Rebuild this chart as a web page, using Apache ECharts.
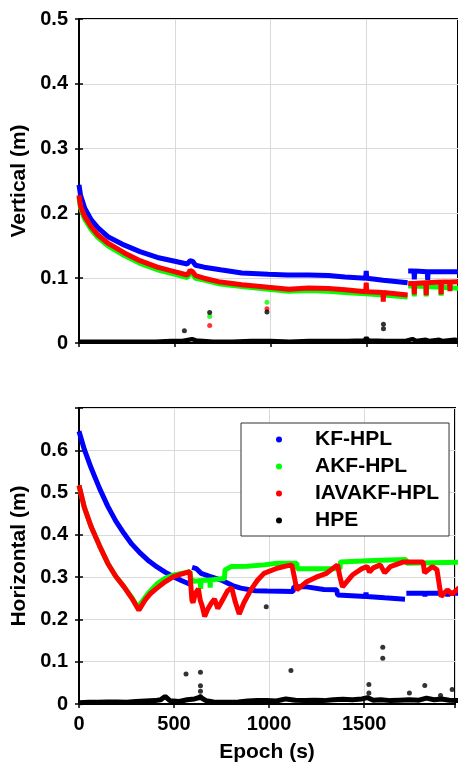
<!DOCTYPE html>
<html><head><meta charset="utf-8">
<script src="https://cdn.jsdelivr.net/npm/echarts@6/dist/echarts.min.js"></script>
<style>html,body{margin:0;padding:0;background:#fff}#c{width:458px;height:766px}</style>
</head><body><div id="c"></div>
<script>
// ---------- data (epoch s, metres) ----------
const seriesNames = ['KF-HPL', 'AKF-HPL', 'IAVAKF-HPL', 'HPE'];
const xTickLabels = [0, 500, 1000, 1500];
const vTickLabels = [0, 0.1, 0.2, 0.3, 0.4, 0.5];
const hTickLabels = [0, 0.1, 0.2, 0.3, 0.4, 0.5, 0.6];

// Vertical panel
const kfV = [[0,0.244],[8,0.228],[30,0.208],[64,0.190],[98,0.178],[151,0.164],[237,0.151],[318,0.141],[409,0.132],[488,0.127],[565,0.122],[580,0.127],[593,0.126],[608,0.120],[653,0.117],[738,0.113],[850,0.108],[988,0.106],[1088,0.105],[1198,0.105],[1302,0.104],[1388,0.102],[1496,0.100],[1499,0.111],[1502,0.100],[1588,0.097],[1715,0.093],[1716,null],[1718,0.111],[1748,0.111],[1750,0.098],[1752,0.111],[1818,0.110],[1820,0.097],[1822,0.110],[1900,0.110],[2000,0.110]];
const akV = [[0,0.225],[8,0.208],[30,0.191],[64,0.175],[98,0.163],[151,0.150],[237,0.135],[318,0.123],[409,0.113],[488,0.107],[565,0.101],[580,0.108],[593,0.106],[608,0.100],[653,0.097],[738,0.091],[850,0.087],[988,0.083],[1094,0.080],[1198,0.081],[1302,0.080],[1388,0.078],[1496,0.076],[1588,0.074],[1715,0.071],[1716,null],[1718,0.088],[1748,0.088],[1750,0.072],[1752,0.088],[1810,0.087],[1812,0.072],[1814,0.087],[1888,0.086],[1890,0.073],[1892,0.086],[2000,0.084]];
const iaV = [[0,0.228],[8,0.211],[30,0.195],[64,0.179],[98,0.167],[151,0.154],[237,0.139],[318,0.127],[409,0.117],[488,0.111],[565,0.105],[580,0.112],[593,0.110],[608,0.104],[653,0.100],[738,0.094],[850,0.090],[988,0.086],[1094,0.083],[1198,0.085],[1302,0.084],[1388,0.082],[1496,0.079],[1499,0.093],[1502,0.079],[1586,0.078],[1588,0.064],[1590,0.078],[1715,0.074],[1716,null],[1718,0.092],[1748,0.092],[1750,0.075],[1752,0.092],[1810,0.093],[1812,0.074],[1814,0.093],[1888,0.094],[1890,0.075],[1892,0.094],[1934,0.094],[1936,0.080],[1938,0.094],[2000,0.095]];
const hpeV = [[0,0.002],[100,0.002],[200,0.002],[300,0.002],[400,0.002],[480,0.003],[540,0.003],[590,0.006],[610,0.004],[700,0.002],[800,0.002],[900,0.003],[1000,0.003],[1100,0.002],[1200,0.003],[1300,0.003],[1400,0.003],[1490,0.004],[1500,0.008],[1510,0.004],[1600,0.003],[1700,0.003],[1740,0.006],[1760,0.003],[1810,0.005],[1830,0.003],[1880,0.005],[1900,0.003],[1960,0.005],[2000,0.003]];
const hpeVOut = [[550,0.019],[682,0.047],[981,0.048],[1589,0.029],[1589,0.022]];
const akVOut = [[682,0.041],[981,0.063]];
const iaVOut = [[682,0.027],[981,0.053]];

// Horizontal panel
const kfH = [[0,0.645],[28,0.602],[64,0.558],[108,0.510],[151,0.468],[193,0.433],[237,0.403],[278,0.378],[324,0.356],[368,0.338],[410,0.324],[453,0.312],[497,0.301],[538,0.292],[590,0.282],[592,null],[595,0.323],[618,0.320],[642,0.309],[688,0.302],[748,0.293],[808,0.280],[851,0.274],[928,0.268],[990,0.267],[1126,0.266],[1130,0.277],[1198,0.277],[1288,0.271],[1356,0.270],[1360,0.258],[1508,0.254],[1510,0.264],[1512,0.254],[1608,0.251],[1715,0.248],[1716,null],[1722,0.262],[1818,0.262],[1820,0.254],[1822,0.262],[1938,0.262],[1940,0.254],[1942,0.262],[2000,0.262]];
const akH = [[0,0.517],[28,0.465],[64,0.419],[108,0.374],[151,0.333],[193,0.302],[237,0.277],[278,0.252],[308,0.228],[328,0.240],[368,0.264],[410,0.284],[453,0.297],[497,0.305],[538,0.309],[583,0.313],[590,0.295],[608,0.290],[638,0.292],[640,0.272],[642,0.292],[688,0.293],[690,0.275],[692,0.293],[748,0.296],[765,0.296],[768,0.317],[800,0.325],[886,0.326],[973,0.329],[1042,0.333],[1146,0.333],[1148,0.320],[1198,0.320],[1373,0.320],[1375,0.336],[1488,0.338],[1588,0.340],[1721,0.342],[1723,0.333],[2000,0.335]];
const iaH = [[0,0.517],[28,0.465],[64,0.419],[108,0.374],[151,0.333],[193,0.302],[237,0.277],[278,0.250],[315,0.222],[348,0.246],[378,0.262],[410,0.274],[453,0.289],[497,0.301],[538,0.307],[583,0.313],[588,0.283],[594,0.245],[600,0.240],[613,0.262],[628,0.272],[638,0.245],[648,0.232],[661,0.207],[678,0.225],[698,0.240],[713,0.248],[730,0.226],[748,0.240],[782,0.268],[803,0.275],[823,0.240],[843,0.213],[868,0.240],[904,0.270],[938,0.292],[973,0.309],[1042,0.321],[1088,0.326],[1120,0.329],[1133,0.300],[1146,0.270],[1198,0.289],[1248,0.300],[1302,0.309],[1360,0.329],[1373,0.300],[1386,0.277],[1438,0.305],[1488,0.320],[1516,0.325],[1528,0.312],[1548,0.322],[1585,0.329],[1608,0.310],[1638,0.325],[1707,0.336],[1810,0.336],[1818,0.310],[1858,0.325],[1883,0.318],[1905,0.254],[1938,0.270],[1963,0.260],[2000,0.275]];
const hpeH = [[0,0.003],[50,0.004],[100,0.004],[150,0.005],[200,0.005],[250,0.004],[300,0.006],[350,0.007],[400,0.008],[430,0.010],[453,0.018],[478,0.008],[528,0.006],[568,0.010],[608,0.012],[638,0.016],[668,0.008],[708,0.005],[768,0.004],[838,0.005],[888,0.007],[938,0.008],[988,0.008],[1038,0.007],[1088,0.012],[1138,0.009],[1188,0.008],[1238,0.009],[1288,0.008],[1338,0.010],[1388,0.011],[1438,0.010],[1488,0.012],[1518,0.015],[1548,0.009],[1588,0.010],[1638,0.008],[1688,0.009],[1738,0.010],[1788,0.009],[1828,0.014],[1868,0.010],[1908,0.012],[1948,0.009],[2000,0.008]];
const hpeHOut = [[563,0.071],[639,0.075],[639,0.043],[639,0.030],[639,0.018],[985,0.230],[1115,0.079],[1598,0.134],[1598,0.108],[1525,0.046],[1525,0.026],[1738,0.026],[1819,0.044],[1902,0.020],[1963,0.034]];

// ---------- chart ----------
const FONT = '"Liberation Sans", Arial, sans-serif';
const C = {kf:'#0000ff', ak:'#00ff00', ia:'#ff0000', hpe:'#000000'};
const X_MAX = 1978;

function xAxisCfg(grid, pos, showLabel, name) {
  return {
    type:'value', gridIndex:grid, position:pos, min:0, max:X_MAX, interval:500,
    axisLine:{show:true, lineStyle:{color:'#000', width:2}},
    axisTick:{show:true, inside:true, length:4, lineStyle:{color:'#000', width:1.5}},
    axisLabel:{show:showLabel, margin:10, color:'#000', fontSize:20, fontWeight:'bold', fontFamily:FONT,
      formatter:v => xTickLabels.includes(v) ? String(v) : ''},
    splitLine:{show:pos==='bottom', lineStyle:{color:'#d9d9d9', width:1}},
    name: name || '', nameLocation:'middle', nameGap:38,
    nameTextStyle:{color:'#000', fontSize:21, fontWeight:'bold', fontFamily:FONT}
  };
}
function yAxisCfg(grid, pos, max, labels, name, gap) {
  return {
    type:'value', gridIndex:grid, position:pos, min:0, max:max, interval:0.1,
    axisLine:{show:true, lineStyle:{color:'#000', width:2}},
    axisTick:{show:true, inside:true, length:4, lineStyle:{color:'#000', width:1.5}},
    axisLabel:{show:pos==='left', margin:11, color:'#000', fontSize:20, fontWeight:'bold', fontFamily:FONT,
      formatter:v => { const r = +(+v).toFixed(1); return labels.includes(r) ? String(r) : ''; }},
    splitLine:{show:pos==='left', lineStyle:{color:'#d9d9d9', width:1}},
    name: name || '', nameLocation:'middle', nameGap:gap || 40,
    nameTextStyle:{color:'#000', fontSize:21, fontWeight:'bold', fontFamily:FONT}
  };
}
function lineS(name, color, data, xi, yi, w) {
  return {type:'line', name, color, data, xAxisIndex:xi, yAxisIndex:yi, showSymbol:false, symbol:'none',
    connectNulls:false, lineStyle:{color, width:w}, animation:false, silent:true};
}
function dotS(name, color, data, xi, yi) {
  return {type:'scatter', name, color, data, xAxisIndex:xi, yAxisIndex:yi, symbol:'circle', symbolSize:5,
    itemStyle:{color}, animation:false, silent:true};
}

const option = {
  animation:false,
  backgroundColor:'#fff',
  grid:[
    {left:79, top:19, width:381, height:324, show:true, borderColor:'#000', borderWidth:2, backgroundColor:'transparent'},
    {left:79, top:408, width:381, height:296, show:true, borderColor:'#000', borderWidth:2, backgroundColor:'transparent'}
  ],
  xAxis:[
    xAxisCfg(0,'bottom',false),
    xAxisCfg(1,'bottom',true,'Epoch (s)'),
    xAxisCfg(0,'top',false),
    xAxisCfg(1,'top',false)
  ],
  yAxis:[
    yAxisCfg(0,'left',0.5,vTickLabels,'Vertical (m)',46),
    yAxisCfg(1,'left',0.7,hTickLabels,'Horizontal (m)',42),
    yAxisCfg(0,'right',0.5,vTickLabels),
    yAxisCfg(1,'right',0.7,hTickLabels)
  ],
  legend:{
    data:seriesNames, left:241, top:423, orient:'vertical', icon:'circle',
    itemWidth:6, itemHeight:6, itemGap:6, padding:[6,10,5,35],
    backgroundColor:'#fff', borderColor:'#333', borderWidth:1, z:20,
    selectedMode:false,
    formatter:n => '{t|' + n + '}',
    textStyle:{color:'#000', rich:{t:{fontSize:21, fontWeight:'bold', fontFamily:FONT, color:'#000', padding:[0,0,0,28], lineHeight:20}}}
  },
  series:[
    lineS(seriesNames[0], C.kf, kfV, 0, 0, 5),
    lineS(seriesNames[1], C.ak, akV, 0, 0, 5),
    lineS(seriesNames[2], C.ia, iaV, 0, 0, 5),
    lineS(seriesNames[3], C.hpe, hpeV, 0, 0, 4.5),
    dotS(seriesNames[1], C.ak, akVOut, 0, 0),
    dotS(seriesNames[2], C.ia, iaVOut, 0, 0),
    dotS(seriesNames[3], C.hpe, hpeVOut, 0, 0),
    lineS(seriesNames[0], C.kf, kfH, 1, 1, 5),
    lineS(seriesNames[1], C.ak, akH, 1, 1, 5),
    lineS(seriesNames[2], C.ia, iaH, 1, 1, 5),
    lineS(seriesNames[3], C.hpe, hpeH, 1, 1, 5),
    dotS(seriesNames[3], C.hpe, hpeHOut, 1, 1)
  ]
};
const chart = echarts.init(document.getElementById('c'), null, {renderer:'canvas'});
chart.setOption(option);
</script></body></html>
